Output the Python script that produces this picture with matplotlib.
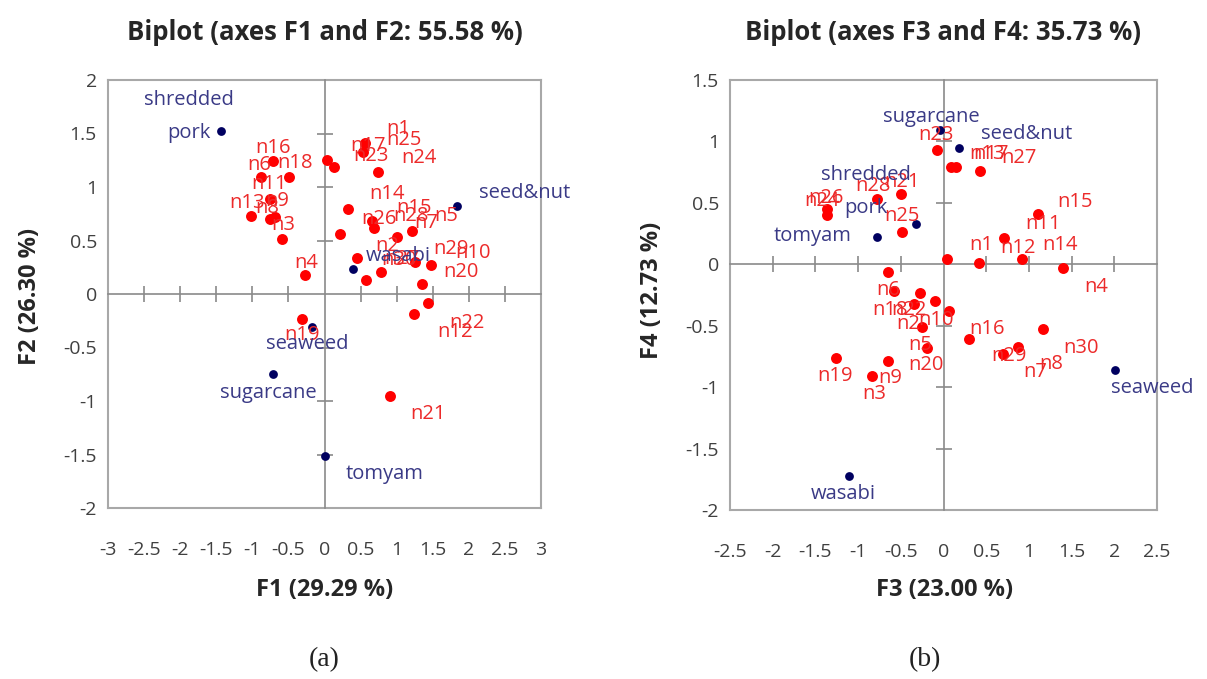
import matplotlib
matplotlib.use("Agg")
import matplotlib.pyplot as plt
import numpy as np

plt.rcParams['font.family'] = ['Open Sans', 'DejaVu Sans']

# ---------------- data: panel (a) F1/F2 ----------------
a_obs_labels = ["n16", "n6", "n18", "n11", "n13", "n8", "n9", "n3", "n4", "n19",
                "n17", "n23", "n1", "n25", "n24", "n14", "n26", "n15", "n5", "n28",
                "n7", "n2", "n29", "n10", "n27", "n30", "n20", "n22", "n12", "n21"]
a_obs_f1 = [-0.71, -0.88, -0.49, -0.75, -1.02, -0.76, -0.68, -0.59, -0.27, -0.31,
            0.03, 0.13, 0.56, 0.54, 0.74, 0.32, 0.66, 0.69, 1.21, 1.00,
            0.22, 0.45, 1.26, 1.47, 0.78, 0.58, 1.35, 1.43, 1.24, 0.91]
a_obs_f2 = [1.24, 1.09, 1.09, 0.89, 0.73, 0.70, 0.72, 0.51, 0.18, -0.23,
            1.25, 1.19, 1.41, 1.33, 1.14, 0.79, 0.68, 0.62, 0.59, 0.53,
            0.56, 0.34, 0.30, 0.27, 0.21, 0.13, 0.09, -0.08, -0.19, -0.95]

a_var_labels = ["shredded\npork", "seed&nut", "wasabi", "seaweed", "sugarcane", "tomyam"]
a_var_f1 = [-1.44, 1.84, 0.39, -0.17, -0.71, 0.00]
a_var_f2 = [1.52, 0.82, 0.23, -0.31, -0.75, -1.51]

# ---------------- data: panel (b) F3/F4 ----------------
b_obs_labels = ["n23", "n13", "n17", "n27", "n28", "n21", "n26", "n24", "n25", "n15",
                "n11", "n1", "n12", "n14", "n4", "n6", "n18", "n22", "n2", "n10",
                "n7", "n5", "n20", "n16", "n29", "n8", "n30", "n19", "n9", "n3"]
b_obs_f3 = [-0.08, 0.09, 0.15, 0.43, -0.78, -0.50, -1.36, -1.36, -0.49, 1.11,
            0.71, 0.045, 0.42, 0.92, 1.40, -0.65, -0.58, -0.28, -0.34, -0.10,
            0.067, -0.25, -0.19, 0.30, 0.70, 0.87, 1.17, -1.26, -0.65, -0.84]
b_obs_f4 = [0.93, 0.79, 0.79, 0.76, 0.53, 0.57, 0.45, 0.40, 0.26, 0.41,
            0.21, 0.044, 0.012, 0.044, -0.034, -0.06, -0.22, -0.23, -0.32, -0.30,
            -0.38, -0.51, -0.68, -0.61, -0.73, -0.67, -0.53, -0.76, -0.79, -0.91]

b_var_labels = ["sugarcane", "seed&nut", "shredded\npork", "tomyam", "seaweed", "wasabi"]
b_var_f3 = [-0.045, 0.18, -0.32, -0.78, 2.01, -1.11]
b_var_f4 = [1.09, 0.95, 0.33, 0.22, -0.86, -1.72]

# ---------------- label offsets (pixels, dx right / dy up) ----------------
a_obs_off = [(0, 13), (-2, 12), (6, 14), (-1, 15), (-4, 13), (-2, 11), (2, 16), (1, 14), (1, 12), (0, -16),
             (41, 14), (37, 11), (33, 14), (40, 12), (41, 14), (39, 15), (7, 2), (40, 20), (34, 15), (14, 21),
             (86, 11), (30, 12), (36, 13), (42, 12), (21, 13), (33, 20), (39, 12), (39, -20), (41, -18), (38, -18)]
a_var_off = [(-32, 15), (67, 13), (46, 13), (-5, -17), (-5, -19), (60, -18)]

b_obs_off = [(-1, 15), (36, 13), (35, 13), (39, 13), (-4, 13), (1, 12), (-1, 11), (-5, 14), (0, 16), (37, 12),
             (39, 14), (34, 14), (39, 15), (38, 14), (33, -19), (0, -18), (-4, -19), (-11, -17), (-6, -20), (1, -19),
             (86, -61), (-2, -18), (-1, -17), (18, 10), (6, -2), (33, -17), (38, -19), (-1, -18), (2, -17), (2, -18)]
b_var_off = [(-8, 13), (68, 14), (-50, 32), (-64, 1), (37, -18), (-5, -18)]

RED = '#ff0000'
RED_TXT = '#ec2a2a'
NAVY = '#000060'
NAVY_TXT = '#3a3a86'
FRAME = '#a8a8a8'
AXCOL = '#8a8a8a'
TICKCOL = '#404040'

W, H = 1207, 679
fig = plt.figure(figsize=(W / 100, H / 100), dpi=100)


def panel(rect, xlim, ylim, xticks, yticks, obs, var, obs_off, var_off):
    ax = fig.add_axes(rect)
    ax.set_xlim(*xlim)
    ax.set_ylim(*ylim)
    for s in ax.spines.values():
        s.set_color(FRAME)
        s.set_linewidth(1.5)
    ax.set_xticks(xticks)
    ax.set_yticks(yticks)
    ax.set_xticklabels([('%g' % t) for t in xticks])
    ax.set_yticklabels([('%g' % t) for t in yticks])
    ax.tick_params(axis='both', length=0, labelsize=14, labelcolor=TICKCOL)
    ax.tick_params(axis='x', pad=24)
    ax.tick_params(axis='y', pad=8)

    # crosshair axes through origin with tick marks
    ax2 = fig.add_axes(rect)
    ax2.set_xlim(*xlim)
    ax2.set_ylim(*ylim)
    ax2.patch.set_visible(False)
    ax2.spines['top'].set_visible(False)
    ax2.spines['right'].set_visible(False)
    ax2.spines['left'].set_position(('data', 0))
    ax2.spines['bottom'].set_position(('data', 0))
    for k in ('left', 'bottom'):
        ax2.spines[k].set_color(AXCOL)
        ax2.spines[k].set_linewidth(1.2)
    ax2.tick_params(axis='both', direction='inout', length=11, width=1.2, color=AXCOL,
                    labelleft=False, labelbottom=False)
    ax2.set_xticks([t for t in xticks if t != 0 and xlim[0] < t < xlim[1]])
    ax2.set_yticks([t for t in yticks if t != 0 and ylim[0] < t < ylim[1]])

    ox, oy, olab = obs
    vx, vy, vlab = var
    ax2.scatter(ox, oy, s=62, color=RED, zorder=5, linewidths=0, clip_on=False)
    ax2.scatter(vx, vy, s=40, color=NAVY, zorder=5, linewidths=0, clip_on=False)
    for x, y, t, (dx, dy) in zip(ox, oy, olab, obs_off):
        ax2.annotate(t, (x, y), xytext=(dx, dy), textcoords='offset pixels',
                     ha='center', va='center', fontsize=14.5, color=RED_TXT, zorder=6)
    for x, y, t, (dx, dy) in zip(vx, vy, vlab, var_off):
        ax2.annotate(t, (x, y), xytext=(dx, dy), textcoords='offset pixels',
                     ha='center', va='center', fontsize=14.5, color=NAVY_TXT, zorder=6,
                     linespacing=1.9, multialignment='center')
    return ax


pa = panel([108 / W, 1 - 508 / H, 433 / W, 428 / H], (-3, 3), (-2, 2),
           np.arange(-3, 3.01, 0.5), np.arange(-2, 2.01, 0.5),
           (a_obs_f1, a_obs_f2, a_obs_labels), (a_var_f1, a_var_f2, a_var_labels),
           a_obs_off, a_var_off)
pb = panel([730 / W, 1 - 510 / H, 427 / W, 430 / H], (-2.5, 2.5), (-2, 1.5),
           np.arange(-2.5, 2.51, 0.5), np.arange(-2, 1.51, 0.5),
           (b_obs_f3, b_obs_f4, b_obs_labels), (b_var_f3, b_var_f4, b_var_labels),
           b_obs_off, b_var_off)

# titles and axis titles
TXT = '#262626'
fig.text(325 / W, 1 - 32 / H, 'Biplot (axes F1 and F2: 55.58 %)', ha='center', va='center',
         fontsize=18.5, fontweight='bold', color=TXT)
fig.text(943 / W, 1 - 32 / H, 'Biplot (axes F3 and F4: 35.73 %)', ha='center', va='center',
         fontsize=18.5, fontweight='bold', color=TXT)
fig.text(325 / W, 1 - 590 / H, 'F1 (29.29 %)', ha='center', va='center',
         fontsize=17, fontweight='bold', color=TXT)
fig.text(945 / W, 1 - 590 / H, 'F3 (23.00 %)', ha='center', va='center',
         fontsize=17, fontweight='bold', color=TXT)
fig.text(30 / W, 1 - 296 / H, 'F2 (26.30 %)', ha='center', va='center', rotation=90,
         fontsize=17, fontweight='bold', color=TXT)
fig.text(652 / W, 1 - 290 / H, 'F4 (12.73 %)', ha='center', va='center', rotation=90,
         fontsize=17, fontweight='bold', color=TXT)
fig.text(324 / W, 1 - 660 / H, '(a)', ha='center', va='center', fontsize=20,
         family=['Liberation Serif', 'DejaVu Serif'], color='#222222')
fig.text(925 / W, 1 - 660 / H, '(b)', ha='center', va='center', fontsize=20,
         family=['Liberation Serif', 'DejaVu Serif'], color='#222222')

fig.savefig('out.png', dpi=100, facecolor='white')
